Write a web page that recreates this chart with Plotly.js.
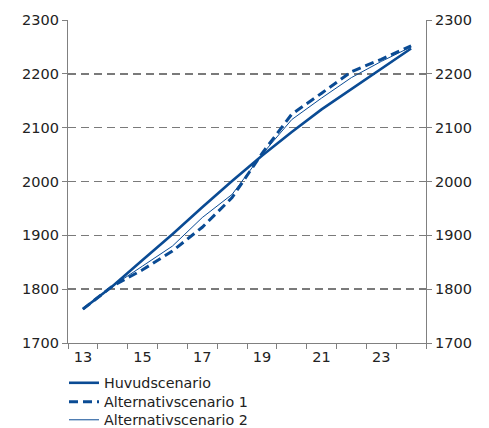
<!DOCTYPE html>
<html>
<head>
<meta charset="utf-8">
<script src="https://cdn.plot.ly/plotly-3.0.1.min.js"></script>
<style>html,body{margin:0;padding:0;background:#fff}#chart{width:489px;height:428px}</style>
</head>
<body>
<div id="chart"></div>
<script>
var years = [13, 14, 15, 16, 17, 18, 19, 20, 21, 22, 23, 24];
var xTickVals = [13, 15, 17, 19, 21, 23];
var xTickText = ["13", "15", "17", "19", "21", "23"];
var huvudscenario = [1763, 1806, 1854, 1902, 1952, 2001, 2048, 2092, 2134, 2172, 2210, 2247];
var alternativ1 = [1763, 1806, 1836, 1871, 1915, 1970, 2052, 2125, 2164, 2204, 2227, 2252];
var alternativ2 = [1763, 1806, 1843, 1880, 1933, 1976, 2050, 2115, 2155, 2193, 2223, 2250];
var seriesNames = ["Huvudscenario", "Alternativscenario 1", "Alternativscenario 2"];
var yTickVals = [1700, 1800, 1900, 2000, 2100, 2200, 2300];

var blue = "#0a4b94";
var font = {family: "DejaVu Sans, Verdana, sans-serif", size: 14.5, color: "#222"};
var legFont = {family: font.family, size: 14.3, color: "#222"};

function leg(top) {
  return {x: 64 / 489, y: 1 - top / 428, xref: "container", yref: "container",
          xanchor: "left", yanchor: "top", orientation: "v",
          font: legFont, bgcolor: "rgba(0,0,0,0)"};
}

var traces = [
  {x: years, y: huvudscenario, name: seriesNames[0], type: "scatter", mode: "lines",
   line: {color: blue, width: 2.6}, legend: "legend"},
  {x: years, y: alternativ1, name: seriesNames[1], type: "scatter", mode: "lines",
   line: {color: blue, width: 3, dash: "9px,5px"}, legend: "legend2"},
  {x: years, y: alternativ2, name: seriesNames[2], type: "scatter", mode: "lines",
   line: {color: blue, width: 1}, legend: "legend3"},
  {x: years, y: huvudscenario, yaxis: "y2", type: "scatter", mode: "lines",
   line: {width: 0}, opacity: 0, showlegend: false, hoverinfo: "skip"}
];

var layout = {
  width: 489, height: 428,
  margin: {l: 68, r: 63, t: 20, b: 85, autoexpand: false},
  paper_bgcolor: "#fff", plot_bgcolor: "#fff",
  font: font,
  showlegend: true,
  legend: leg(367),
  legend2: leg(386),
  legend3: leg(404),
  xaxis: {
    range: [12.5, 24.5], tickvals: xTickVals, ticktext: xTickText,
    ticks: "", showgrid: false, zeroline: false,
    showline: true, linecolor: "#808080", linewidth: 1.2,
    tickfont: font,
    minor: {tick0: 12.5, dtick: 1, ticks: "outside", ticklen: 5, tickcolor: "#808080", showgrid: false}
  },
  yaxis: {
    range: [1700, 2300], tickvals: yTickVals,
    ticks: "outside", ticklen: 5, tickcolor: "#808080",
    showline: true, linecolor: "#808080", linewidth: 1.2,
    showgrid: true, gridcolor: "#7a7a7a", griddash: "8px,5px", gridwidth: 1.6,
    zeroline: false, tickfont: font
  },
  yaxis2: {
    range: [1700, 2300], tickvals: yTickVals, overlaying: "y", side: "right",
    ticks: "outside", ticklen: 5, tickcolor: "#808080",
    showline: true, linecolor: "#808080", linewidth: 1.2,
    showgrid: false, zeroline: false, tickfont: font
  }
};

Plotly.newPlot("chart", traces, layout, {displayModeBar: false, staticPlot: true});
</script>
</body>
</html>
